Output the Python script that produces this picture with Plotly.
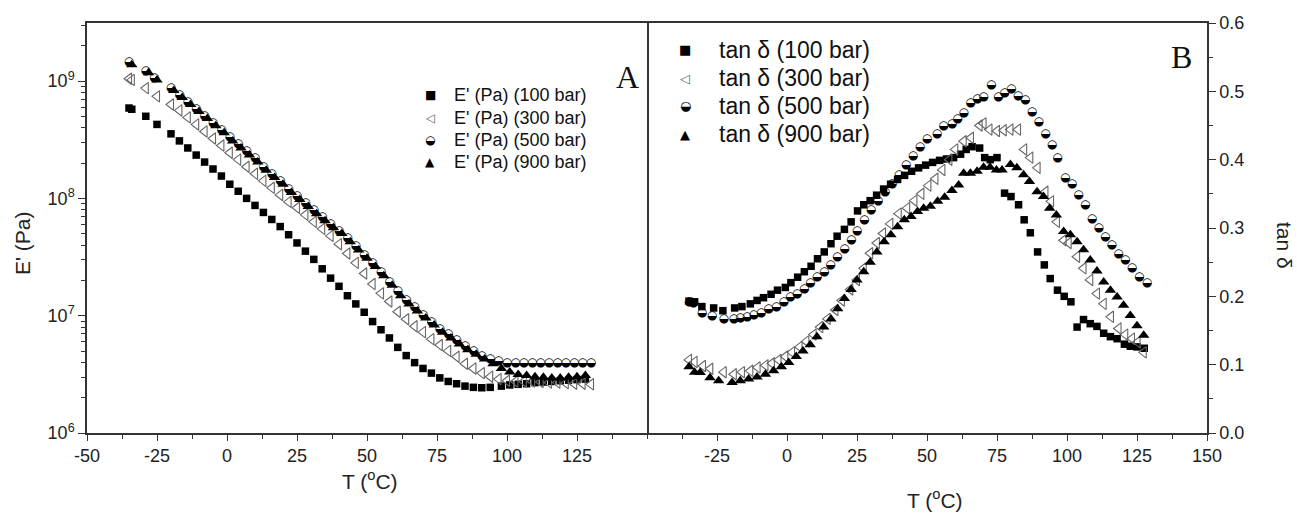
import plotly.graph_objects as go

# ---------------- Panel A : storage modulus E' (Pa) ----------------
T_A_100 = [-35, -34, -29, -25, -20, -17, -14, -11, -8, -5, -2, 1, 4, 7, 10, 13, 16, 19, 22, 25, 28, 31, 34, 37, 40,
           43, 46, 49, 52, 55, 58, 61, 64, 67, 70, 73, 76, 79, 82, 85, 88, 91, 94, 98, 101, 104, 107, 110, 113, 116,
           119, 122, 125, 128]
E_100 = [5.89e8, 5.75e8, 5.01e8, 4.27e8, 3.55e8, 3.09e8, 2.69e8, 2.34e8, 2.04e8, 1.78e8, 1.55e8, 1.32e8, 1.15e8,
         1.00e8, 8.71e7, 7.59e7, 6.61e7, 5.75e7, 4.90e7, 4.17e7, 3.55e7, 3.02e7, 2.51e7, 2.09e7, 1.78e7, 1.48e7,
         1.26e7, 1.07e7, 8.91e6, 7.59e6, 6.46e6, 5.37e6, 4.57e6, 3.98e6, 3.55e6, 3.24e6, 2.95e6, 2.75e6, 2.63e6,
         2.51e6, 2.45e6, 2.43e6, 2.45e6, 2.51e6, 2.57e6, 2.60e6, 2.63e6, 2.69e6, 2.72e6, 2.75e6, 2.79e6, 2.82e6,
         2.85e6, 2.88e6]

T_A_300 = [-35, -34, -29, -25, -20, -17, -14, -11, -8, -5, -2, 1, 4, 7, 10, 13, 16, 19, 22, 25, 28, 31, 34, 37, 40,
           43, 46, 49, 52, 55, 58, 61, 64, 67, 70, 73, 76, 79, 82, 85, 88, 91, 94, 97, 100, 103, 106, 109, 112, 115,
           118, 121, 124, 127, 130]
E_300 = [1.047e9, 1.023e9, 8.71e8, 7.41e8, 6.31e8, 5.62e8, 4.90e8, 4.27e8, 3.72e8, 3.24e8, 2.82e8, 2.45e8, 2.14e8,
         1.86e8, 1.62e8, 1.41e8, 1.23e8, 1.07e8, 9.33e7, 8.32e7, 7.24e7, 6.31e7, 5.50e7, 4.79e7, 4.07e7, 3.39e7,
         2.82e7, 2.29e7, 1.86e7, 1.55e7, 1.32e7, 1.08e7, 9.33e6, 8.13e6, 7.24e6, 6.31e6, 5.62e6, 5.01e6, 4.47e6,
         3.89e6, 3.55e6, 3.24e6, 3.02e6, 2.88e6, 2.79e6, 2.75e6, 2.75e6, 2.75e6, 2.72e6, 2.69e6, 2.69e6, 2.66e6,
         2.63e6, 2.63e6, 2.60e6]

T_A_500 = [-35, -29, -26, -20, -17, -14, -11, -8, -5, -2, 1, 4, 7, 10, 13, 16, 19, 22, 25, 28, 31, 34, 37, 40, 43,
           46, 49, 52, 55, 58, 61, 64, 67, 70, 73, 76, 79, 82, 85, 88, 91, 94, 97, 100, 103, 106, 109, 112, 115, 118,
           121, 124, 127, 130]
E_500 = [1.445e9, 1.23e9, 1.072e9, 8.71e8, 7.59e8, 6.61e8, 5.75e8, 5.01e8, 4.37e8, 3.80e8, 3.31e8, 2.88e8, 2.51e8,
         2.19e8, 1.86e8, 1.62e8, 1.41e8, 1.20e8, 1.047e8, 9.12e7, 7.94e7, 6.92e7, 6.03e7, 5.25e7, 4.57e7, 3.89e7,
         3.31e7, 2.82e7, 2.34e7, 1.95e7, 1.62e7, 1.35e7, 1.175e7, 1.023e7, 8.91e6, 7.76e6, 6.92e6, 6.17e6, 5.50e6,
         5.01e6, 4.57e6, 4.27e6, 4.07e6, 3.98e6, 3.94e6, 3.94e6, 3.94e6, 3.94e6, 3.94e6, 3.94e6, 3.94e6, 3.94e6,
         3.94e6, 3.94e6]

T_A_900 = [-34, -28, -25, -19, -16, -13, -10, -7, -4, -1, 2, 5, 8, 11, 14, 17, 20, 23, 26, 29, 32, 35, 38, 41, 44,
           47, 50, 53, 56, 59, 62, 65, 68, 71, 74, 77, 80, 83, 86, 89, 92, 95, 98, 101, 104, 107, 110, 113, 116, 119,
           122, 125, 128]
E_900 = [1.38e9, 1.175e9, 1.023e9, 8.32e8, 7.24e8, 6.31e8, 5.50e8, 4.79e8, 4.17e8, 3.63e8, 3.09e8, 2.69e8, 2.34e8,
         2.04e8, 1.74e8, 1.51e8, 1.32e8, 1.12e8, 9.77e7, 8.51e7, 7.41e7, 6.46e7, 5.62e7, 5.01e7, 4.27e7, 3.63e7,
         3.09e7, 2.63e7, 2.19e7, 1.82e7, 1.48e7, 1.26e7, 1.096e7, 9.55e6, 8.32e6, 7.24e6, 6.46e6, 5.75e6, 5.13e6,
         4.68e6, 4.27e6, 3.89e6, 3.55e6, 3.31e6, 3.16e6, 3.09e6, 3.02e6, 2.99e6, 2.95e6, 2.95e6, 2.99e6, 3.02e6,
         3.09e6]

# ---------------- Panel B : tan delta ----------------
T_B_100 = [-35, -33, -30.4, -26.2, -22.9, -18.7, -16.1, -13.1, -10.7, -8.4, -5.7, -3.4, -0.6, 1.4, 3.8, 6.2, 8.6,
           10.9, 13.3, 15.7, 17.9, 20.5, 22.9, 25.2, 27.4, 29.7, 32, 34.5, 37, 39.5, 42, 44.5, 47, 49.5, 52, 54.5,
           57, 59.5, 62, 64, 66.1, 68.8, 70.6, 72.6, 75, 77.7, 80, 82.7, 84.7, 86.9, 89.5, 91.9, 94, 96.6, 99, 101.4,
           103.6, 105.9, 108.3, 110.7, 113.1, 115.5, 117.9, 120.5, 122.6, 125, 127.6]
tan_100 = [0.193, 0.192, 0.185, 0.183, 0.179, 0.183, 0.185, 0.189, 0.194, 0.198, 0.203, 0.209, 0.213, 0.220, 0.228,
           0.236, 0.244, 0.255, 0.265, 0.277, 0.288, 0.298, 0.309, 0.325, 0.334, 0.340, 0.348, 0.357, 0.364, 0.371,
           0.377, 0.383, 0.388, 0.392, 0.396, 0.399, 0.401, 0.403, 0.408, 0.415, 0.419, 0.417, 0.403, 0.400, 0.403,
           0.351, 0.346, 0.334, 0.312, 0.293, 0.265, 0.246, 0.226, 0.209, 0.200, 0.192, 0.155, 0.166, 0.160, 0.156,
           0.146, 0.141, 0.138, 0.130, 0.127, 0.126, 0.124]

T_B_300 = [-35, -33, -30, -27.4, -22.6, -19, -16.1, -13.1, -10.5, -7.7, -5.4, -3, -0.6, 1.8, 4.5, 6.9, 9.5, 11.9,
           14.5, 17.3, 19.6, 22.6, 25, 27.4, 29.7, 32.1, 34.3, 36.9, 39.9, 42.9, 45.5, 48, 50.5, 53, 55.5, 58, 60.1,
           63.1, 65.7, 68.8, 70.2, 72.3, 75, 77.4, 79.8, 82.5, 84.7, 86.9, 89.5, 92.3, 94.3, 96.4, 98.8, 100.6, 103.6,
           105.9, 108.3, 110.7, 113.1, 115.7, 118.4, 120.8, 123.2, 125.2, 127.4]
tan_300 = [0.107, 0.104, 0.098, 0.094, 0.089, 0.086, 0.089, 0.091, 0.096, 0.099, 0.102, 0.107, 0.112, 0.118, 0.126,
           0.134, 0.144, 0.155, 0.167, 0.180, 0.194, 0.210, 0.224, 0.241, 0.263, 0.278, 0.292, 0.306, 0.321, 0.329,
           0.340, 0.350, 0.362, 0.372, 0.385, 0.400, 0.415, 0.427, 0.432, 0.450, 0.453, 0.444, 0.442, 0.443, 0.444,
           0.444, 0.415, 0.403, 0.388, 0.353, 0.339, 0.309, 0.282, 0.278, 0.258, 0.241, 0.224, 0.204, 0.189, 0.170,
           0.153, 0.144, 0.138, 0.133, 0.118]

T_B_500 = [-35, -33.5, -30.4, -26.8, -22.6, -19, -16.7, -14.3, -11.9, -9.3, -6.6, -3.8, -1.2, 1.2, 3.6, 6.2, 8.3,
           10.7, 13.3, 15.5, 17.9, 20.5, 22.9, 25, 27.6, 30, 32.5, 35, 37.5, 40, 42.5, 45, 47.5, 50, 53.6, 55.9, 58.9,
           60.9, 63.1, 65.5, 67.9, 70.2, 72.9, 75.4, 77.7, 80.1, 82.5, 85.1, 87.5, 89.9, 92.3, 94.6, 96.6, 99.4,
           101.8, 104.1, 106.5, 108.9, 111.3, 113.7, 116, 118.4, 120.8, 123.2, 125.8, 128.6]
tan_500 = [0.192, 0.190, 0.176, 0.171, 0.167, 0.167, 0.169, 0.170, 0.172, 0.176, 0.182, 0.185, 0.192, 0.199, 0.204,
           0.211, 0.219, 0.228, 0.236, 0.246, 0.257, 0.269, 0.282, 0.295, 0.312, 0.327, 0.339, 0.352, 0.365, 0.378,
           0.392, 0.405, 0.418, 0.430, 0.437, 0.449, 0.452, 0.460, 0.469, 0.483, 0.489, 0.491, 0.509, 0.491, 0.498,
           0.504, 0.493, 0.487, 0.470, 0.455, 0.437, 0.421, 0.403, 0.373, 0.365, 0.349, 0.334, 0.313, 0.300, 0.287,
           0.275, 0.262, 0.253, 0.241, 0.228, 0.220]

T_B_900 = [-35, -33, -31, -27.5, -24.4, -19.6, -16.7, -13.7, -10.7, -7.7, -4.8, -2, 0.6, 3.3, 5.7, 8.3, 10.7, 13.1,
           15.7, 18.1, 20.5, 22.9, 25, 27.4, 29.7, 32.1, 34.7, 37.1, 39.5, 41.9, 44.3, 46.6, 48.8, 51.2, 53.8, 56.3,
           58.9, 61.3, 63.1, 65.5, 67.9, 70.2, 72.5, 74.8, 76.8, 79.8, 82.1, 84.5, 86.6, 89.3, 91.6, 93.8, 96.2, 98.8,
           101.2, 103.6, 105.9, 108.3, 110.7, 113.1, 115.5, 117.9, 120.2, 122.6, 125, 127.4]
tan_900 = [0.097, 0.089, 0.0887, 0.081, 0.0765, 0.074, 0.0765, 0.079, 0.082, 0.086, 0.091, 0.097, 0.103, 0.112,
           0.120, 0.129, 0.141, 0.155, 0.167, 0.182, 0.197, 0.210, 0.224, 0.236, 0.250, 0.265, 0.280, 0.290, 0.302,
           0.312, 0.317, 0.324, 0.329, 0.332, 0.339, 0.345, 0.355, 0.363, 0.380, 0.380, 0.383, 0.389, 0.389, 0.385,
           0.385, 0.393, 0.388, 0.378, 0.368, 0.353, 0.346, 0.329, 0.319, 0.295, 0.290, 0.280, 0.268, 0.253, 0.237,
           0.221, 0.209, 0.199, 0.187, 0.172, 0.157, 0.143]

legend_A = ["E' (Pa) (100 bar)", "E' (Pa) (300 bar)", "E' (Pa) (500 bar)", "E' (Pa) (900 bar)"]
legend_B = ["tan \u03b4 (100 bar)", "tan \u03b4 (300 bar)", "tan \u03b4 (500 bar)", "tan \u03b4 (900 bar)"]
ticks_A = [-50, -25, 0, 25, 50, 75, 100, 125]
ticks_A_text = ["-50", "-25", "0", "25", "50", "75", "100", "125"]
ticks_B = [-25, 0, 25, 50, 75, 100, 125, 150]
ticks_B_text = ["-25", "0", "25", "50", "75", "100", "125", "150"]
ticks_E = [1e6, 1e7, 1e8, 1e9]
ticks_E_text = ["10<sup>6</sup>", "10<sup>7</sup>", "10<sup>8</sup>", "10<sup>9</sup>"]
ticks_tan = [0.0, 0.1, 0.2, 0.3, 0.4, 0.5, 0.6]
ticks_tan_text = ["0.0", "0.1", "0.2", "0.3", "0.4", "0.5", "0.6"]

W, H = 1297, 513
ML, MR, MT, MB = 87, 90, 23, 80
PW, PH = W - ML - MR, H - MT - MB

def px(x):
    return (x - ML) / PW

def py(y):
    return (H - MB - y) / PH

GREY = "#666666"
HALF = "\u25d2"

fig = go.Figure()

def add_set(xa, ya, data):
    (t1, v1), (t3, v3), (t5, v5), (t9, v9) = data
    fig.add_trace(go.Scatter(x=t1, y=v1, mode="markers", xaxis=xa, yaxis=ya, showlegend=False,
                             marker=dict(symbol="square", size=7.5, color="black")))
    fig.add_trace(go.Scatter(x=t3, y=v3, mode="markers", xaxis=xa, yaxis=ya, showlegend=False,
                             marker=dict(symbol="triangle-left-open", size=10, color=GREY, line=dict(width=1.1))))
    fig.add_trace(go.Scatter(x=t9, y=v9, mode="markers", xaxis=xa, yaxis=ya, showlegend=False,
                             marker=dict(symbol="triangle-up", size=10, color="black")))
    fig.add_trace(go.Scatter(x=t5, y=v5, mode="text", xaxis=xa, yaxis=ya, showlegend=False, text=[HALF] * len(t5),
                             textposition="middle center",
                             textfont=dict(family="DejaVu Sans", size=12, color="black")))

add_set("x", "y", [(T_A_100, E_100), (T_A_300, E_300), (T_A_500, E_500), (T_A_900, E_900)])
add_set("x2", "y2", [(T_B_100, tan_100), (T_B_300, tan_300), (T_B_500, tan_500), (T_B_900, tan_900)])

AX = "#333333"
TICKF = dict(family="Liberation Sans, Arial", size=18, color="#222222")

minor_E = [m * 10 ** k for k in (6, 7, 8, 9) for m in range(2, 10)]

fig.update_layout(
    width=W, height=H, margin=dict(l=ML, r=MR, t=MT, b=MB),
    paper_bgcolor="white", plot_bgcolor="white", showlegend=False,
    xaxis=dict(domain=[0, 0.5], range=[-50, 150], tickvals=ticks_A, ticktext=ticks_A_text, showgrid=False,
               zeroline=False, showline=True, linecolor=AX, linewidth=1.5, mirror=True, ticks="outside",
               ticklen=6, tickwidth=1.3, tickcolor=AX, tickfont=TICKF, anchor="y",
               minor=dict(dtick=12.5, ticks="outside", ticklen=4, tickcolor=AX, tickwidth=1.2)),
    yaxis=dict(type="log", range=[6, 9.495], tickvals=ticks_E, ticktext=ticks_E_text, showgrid=False,
               zeroline=False, showline=True, linecolor=AX, linewidth=1.5, mirror=True, ticks="outside",
               ticklen=7, tickwidth=1.3, tickcolor=AX, tickfont=TICKF, anchor="x",
               minor=dict(tickvals=minor_E, ticks="outside", ticklen=4, tickcolor=AX, tickwidth=1.1)),
    xaxis2=dict(domain=[0.5, 1], range=[-50, 150], tickvals=ticks_B, ticktext=ticks_B_text, showgrid=False,
                zeroline=False, showline=True, linecolor=AX, linewidth=1.5, mirror=True, ticks="outside",
                ticklen=6, tickwidth=1.3, tickcolor=AX, tickfont=TICKF, anchor="y2",
                minor=dict(dtick=12.5, ticks="outside", ticklen=4, tickcolor=AX, tickwidth=1.2)),
    yaxis2=dict(range=[0, 0.6], side="right", tickvals=ticks_tan, ticktext=ticks_tan_text, showgrid=False,
                zeroline=False, showline=True, linecolor=AX, linewidth=1.5, ticks="outside", ticklen=7,
                tickwidth=1.3, tickcolor=AX, tickfont=TICKF, anchor="x2",
                minor=dict(dtick=0.05, ticks="outside", ticklen=4, tickcolor=AX, tickwidth=1.1)),
)

ann = []
glyphs = ["\u25a0", "\u25c1", HALF, "\u25b2"]
gcolors = ["black", GREY, "black", "black"]

rows_A = [95, 118, 140, 162]
for i, lab in enumerate(legend_A):
    ann.append(dict(x=px(430), y=py(rows_A[i]), xref="paper", yref="paper", text=glyphs[i], showarrow=False,
                    xanchor="center", yanchor="middle",
                    font=dict(family="DejaVu Sans", size=12, color=gcolors[i])))
    ann.append(dict(x=px(452), y=py(rows_A[i]), xref="paper", yref="paper", text=lab, showarrow=False,
                    xanchor="left", yanchor="middle",
                    font=dict(family="Liberation Sans, Arial", size=18, color="#111111")))

rows_B = [50, 78, 106, 134]
for i, lab in enumerate(legend_B):
    ann.append(dict(x=px(685), y=py(rows_B[i]), xref="paper", yref="paper", text=glyphs[i], showarrow=False,
                    xanchor="center", yanchor="middle",
                    font=dict(family="DejaVu Sans", size=13, color=gcolors[i])))
    ann.append(dict(x=px(717), y=py(rows_B[i]), xref="paper", yref="paper", text=lab, showarrow=False,
                    xanchor="left", yanchor="middle",
                    font=dict(family="Liberation Sans, Arial", size=23, color="#111111")))

TITLEF = dict(family="Liberation Sans, Arial", size=21, color="#222222")
ann += [
    dict(x=px(627), y=py(77), xref="paper", yref="paper", text="A", showarrow=False, xanchor="center",
         yanchor="middle", font=dict(family="Liberation Serif, Times New Roman", size=32, color="#111111")),
    dict(x=px(1181), y=py(57), xref="paper", yref="paper", text="B", showarrow=False, xanchor="center",
         yanchor="middle", font=dict(family="Liberation Serif, Times New Roman", size=32, color="#111111")),
    dict(x=px(22), y=py(243), xref="paper", yref="paper", text="E' (Pa)", textangle=-90, showarrow=False,
         xanchor="center", yanchor="middle", font=TITLEF),
    dict(x=px(1285), y=py(245), xref="paper", yref="paper", text="tan \u03b4", textangle=90, showarrow=False,
         xanchor="center", yanchor="middle", font=TITLEF),
    dict(x=px(370), y=py(480), xref="paper", yref="paper", text="T (<sup>o</sup>C)", showarrow=False,
         xanchor="center", yanchor="middle", font=TITLEF),
    dict(x=px(935), y=py(499), xref="paper", yref="paper", text="T (<sup>o</sup>C)", showarrow=False,
         xanchor="center", yanchor="middle", font=TITLEF),
]
fig.update_layout(annotations=ann)

fig.write_html("out.html")
